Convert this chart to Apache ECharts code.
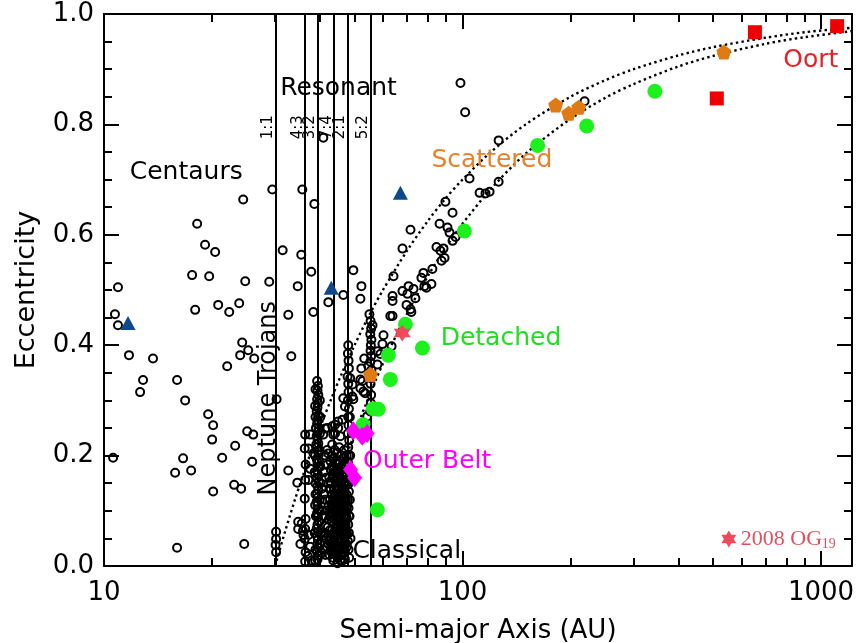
<!DOCTYPE html>
<html><head><meta charset="utf-8">
<script src="https://cdn.jsdelivr.net/npm/echarts@6/dist/echarts.min.js"></script>
<style>html,body{margin:0;padding:0;background:#fff}#c{width:858px;height:643px}</style>
</head><body><div id="c"></div>
<script>
// ---- axis ticks ----
const xMajorTicks = [10, 100, 1000];
const xMinorTicks = [20,30,40,50,60,70,80,90,200,300,400,500,600,700,800,900];
const xTickLabels = [10, 100, 1000];
const yTickLabels = [0.0, 0.2, 0.4, 0.6, 0.8, 1.0];

// ---- resonances (a in AU) ----
const resonanceNames = ['1:1', '4:3', '3:2', '7:4', '2:1', '5:2'];
const resonanceA = [30.1, 36.4, 39.4, 43.7, 47.8, 55.4];

// ---- black open circles: [a, e] ----
const centaurObjs = [
[10.94,0.505],[10.73,0.456],[10.94,0.436],[10.6,0.196],[11.74,0.382],[13.7,0.376],[12.85,0.337],[12.61,0.315],
[15.99,0.337],[16.84,0.300],[17.61,0.527],[19.65,0.525],[17.96,0.464],[20.82,0.473],[22.35,0.460],[23.83,0.476],
[24.77,0.516],[24.29,0.405],[25.25,0.391],[23.98,0.382],[26.24,0.376],[22.06,0.362],[19.52,0.275],[20.16,0.255],
[20.03,0.229],[23.22,0.218],[21.36,0.196],[16.62,0.195],[15.79,0.169],[17.5,0.173],[20.16,0.135],[23.07,0.147],
[24.13,0.14],[25.08,0.244],[26.08,0.238],[25.91,0.189],[15.99,0.033],[24.61,0.04],[24.45,0.664],[18.19,0.62],
[19.14,0.582],[20.42,0.569],[29.47,0.682],[28.9,0.515],[31.5,0.572],[32.66,0.455],[33.3,0.38],[34.7,0.507],
[32.66,0.173],[34.61,0.151]
];
const trojanObjs = [[30.2,0.062],[30.2,0.049],[30.1,0.038],[30.2,0.025],[30.3,0.302]];
const upperResonant = [
[98.7,0.875],[101.7,0.822],[40.9,0.776],[35.74,0.682],[38.61,0.656],[35.5,0.564],[37.85,0.533],[49.6,0.536],
[52.24,0.507],[38.36,0.46],[51.9,0.484],[46.51,0.491],[42.24,0.478],[54.99,0.456]
];
const res43Objs = [
[36.4,0.238],[36.3,0.213],[36.5,0.184],[36.4,0.156],[36.3,0.122],[36.5,0.085],[36.4,0.067],[36.3,0.049],
[36.5,0.025],[36.4,0.008],[34.8,0.08],[34.8,0.067],[35.6,0.077],[35.9,0.064],[36.0,0.056],[35.3,0.04],
[37.2,0.056],[37.6,0.035],[37.0,0.018],[37.9,0.01],[37.6,0.238],[37.2,0.213],[38.4,0.204],[37.6,0.176],[37.2,0.156]
];
const plutinoObjs = [
[39.3,0.335],[39.5,0.326],[39.4,0.318],[39.6,0.31],[39.3,0.302],[39.5,0.295],[39.4,0.287],[39.2,0.28],
[39.6,0.272],[39.4,0.265],[39.3,0.258],[39.7,0.25],[39.5,0.243],[39.2,0.236],[39.4,0.229],[39.6,0.222],
[39.3,0.215],[39.5,0.208],[39.7,0.201],[39.2,0.194],[39.4,0.187],[39.6,0.18],[39.3,0.173],[39.5,0.166],
[39.2,0.159],[39.7,0.152],[39.4,0.145],[39.6,0.138],[39.3,0.131],[39.5,0.124],[39.2,0.117],[39.4,0.11],
[39.6,0.103],[39.3,0.096],[39.5,0.089],[39.7,0.082],[39.4,0.075],[39.2,0.068],[39.6,0.061],[39.3,0.054],
[39.5,0.047],[39.4,0.04],[39.6,0.033],[39.3,0.026],[39.5,0.019],[39.4,0.012],
[38.9,0.27],[40.0,0.24],[38.8,0.2],[40.1,0.18],[38.9,0.15],[40.0,0.12],[39.0,0.09],[40.2,0.06],[38.9,0.03],[40.1,0.02],
[38.9,0.32],[40.0,0.3],[38.8,0.29],[40.1,0.27],[39.0,0.25],[39.9,0.21],[38.7,0.17],[40.2,0.15],[38.9,0.13],
[40.0,0.1],[38.8,0.11],[39.9,0.08],[38.7,0.06],[40.0,0.04],[38.8,0.01],[39.1,0.22],[39.8,0.19]
];
const classicalObjs = [
[42.6,0.02],[42.9,0.05],[43.2,0.08],[43.5,0.11],[43.8,0.14],[44.1,0.17],[44.4,0.03],[44.7,0.06],[45.0,0.09],
[45.3,0.12],[45.6,0.15],[45.9,0.18],[46.2,0.01],[46.5,0.04],[46.8,0.07],[47.1,0.1],[47.4,0.13],
[42.7,0.12],[43.0,0.15],[43.3,0.18],[43.6,0.01],[43.9,0.04],[44.2,0.07],[44.5,0.1],[44.8,0.13],[45.1,0.16],
[45.4,0.19],[45.7,0.02],[46.0,0.05],[46.3,0.08],[46.6,0.11],[46.9,0.14],[47.2,0.17],
[42.8,0.09],[43.1,0.025],[43.4,0.055],[43.7,0.085],[44.0,0.115],[44.3,0.145],[44.6,0.175],[44.9,0.015],
[45.2,0.045],[45.5,0.075],[45.8,0.105],[46.1,0.135],[46.4,0.165],[46.7,0.195],[47.0,0.025],[47.3,0.055],[47.6,0.085],
[43.0,0.035],[43.3,0.065],[43.6,0.095],[43.9,0.125],[44.2,0.155],[44.5,0.185],[44.8,0.005],[45.1,0.035],
[45.4,0.065],[45.7,0.095],[46.0,0.125],[46.3,0.155],[46.6,0.185],[46.9,0.045],[47.2,0.075],[47.5,0.105],
[42.5,0.16],[42.8,0.19],[43.2,0.2],[44.0,0.21],[44.7,0.205],[45.3,0.215],[46.0,0.2],[46.8,0.21],[47.5,0.2],
[43.5,0.03],[44.2,0.02],[44.9,0.045],[45.6,0.01],[46.3,0.03],[47.0,0.012],[47.6,0.035],
[43.1,0.11],[43.8,0.06],[44.4,0.09],[45.0,0.14],[45.7,0.06],[46.4,0.1],[47.1,0.15],[42.9,0.14],[43.7,0.17],
[44.6,0.12],[45.5,0.17],[46.2,0.07],[47.3,0.12],
[40.8,0.03],[41.2,0.06],[41.5,0.02],[41.8,0.1],[42.1,0.07],[41.0,0.13],[41.6,0.16],[42.2,0.04],[40.6,0.1],[41.3,0.2],
[41.4,0.249],[42.2,0.204],[42.0,0.184],[43.3,0.22],[44.1,0.256],[43.6,0.238],[45.0,0.262],[47.0,0.289],[42.8,0.153],
[43.3,0.253],[44.1,0.24],[45.6,0.235],[46.2,0.265],[45.0,0.25],[46.5,0.304],[42.0,0.25],[40.9,0.238]
];
const classicalDense = [
[40.7,0.055],[41.1,0.09],[41.4,0.12],[41.9,0.035],[42.3,0.11],[42.4,0.085],[42.6,0.14],[42.7,0.065],[43.0,0.095],[43.2,0.13],
[43.4,0.16],[43.5,0.015],[43.8,0.045],[43.9,0.1],[44.0,0.13],[44.1,0.06],[44.3,0.19],[44.4,0.115],[44.6,0.025],[44.7,0.155],
[44.9,0.085],[45.0,0.11],[45.1,0.055],[45.2,0.185],[45.3,0.03],[45.4,0.14],[45.6,0.085],[45.7,0.125],[45.8,0.045],[45.9,0.155],
[46.0,0.075],[46.1,0.02],[46.2,0.115],[46.3,0.175],[46.5,0.06],[46.6,0.14],[46.7,0.09],[46.8,0.03],[47.0,0.12],[47.1,0.065],
[47.3,0.18],[47.4,0.04],[47.5,0.15],[47.6,0.06],[47.7,0.11],[42.5,0.045],[42.9,0.175],[43.3,0.04],[43.6,0.195],[44.2,0.105],
[44.8,0.07],[45.5,0.095],[46.1,0.165],[46.9,0.105],[47.4,0.09],[42.2,0.15],[41.7,0.05],[41.0,0.17],[40.5,0.14],[41.9,0.21],
[48.6,0.2],[48.5,0.12],[48.7,0.05],[48.5,0.27],[48.6,0.34],[48.4,0.09],[48.6,0.17]
];
const twotinoObjs = [
[48.0,0.40],[47.9,0.385],[48.1,0.372],[48.2,0.358],[47.8,0.343],[48.0,0.33],[48.1,0.315],[47.9,0.3],[48.2,0.285],
[48.0,0.27],[48.1,0.255],[47.9,0.24],[48.3,0.228],[48.0,0.215],[48.2,0.2],[47.9,0.188],[48.1,0.175],[48.3,0.16],
[48.0,0.148],[48.2,0.135],[47.9,0.12],[48.1,0.105],[48.3,0.09],[48.0,0.075],[48.2,0.06],[47.9,0.045],[48.1,0.03],[48.3,0.015]
];
const res52Objs = [
[55.4,0.444],[55.6,0.43],[55.3,0.42],[55.7,0.41],[55.5,0.40],[55.4,0.39],[55.6,0.38],[55.3,0.37],[55.7,0.355],
[55.5,0.34],[55.4,0.33],[55.6,0.31],[55.5,0.295],[55.3,0.28],[56.1,0.436],
[51.9,0.338],[53.5,0.313],[51.9,0.322],[54.2,0.271],[49.3,0.329],[52.2,0.358],[53.2,0.376],[54.6,0.362],[57.9,0.365],
[52.6,0.335],[52.9,0.316],[49.3,0.307],[49.6,0.302],[60.2,0.418],[59.8,0.402],[63.4,0.398],[57.9,0.389],[59.0,0.384]
];
const scatteredObjs = [
[64.2,0.525],[70.7,0.507],[73.0,0.502],[68.0,0.498],[70.2,0.493],[73.9,0.485],[63.8,0.489],[63.8,0.48],[69.8,0.473],
[72.0,0.46],[63.8,0.453],[71.6,0.465],[62.9,0.453],
[104.6,0.702],[126.1,0.696],[111.6,0.676],[115.9,0.675],[119.0,0.678],[126.1,0.771],[89.6,0.66],[93.8,0.64],
[86.3,0.62],[90.8,0.613],[92.0,0.604],[95.6,0.596],[93.8,0.589],[71.6,0.609],[68.0,0.575],[84.6,0.578],[86.8,0.571],
[88.5,0.575],[89.1,0.558],[87.4,0.553],[82.4,0.538],[77.8,0.531],[76.8,0.522],[81.9,0.511],[78.3,0.507],[79.3,0.504],
[219,0.842]
];

// ---- coloured populations ----
const centaurTriangles = [[11.67,0.44],[43.05,0.504],[67.1,0.676]];
const scatteredPentagons = [[55.35,0.347],[181.9,0.835],[197.8,0.82],[210.9,0.831],[535.8,0.931]];
const oortSquares = [[654,0.967],[1109,0.978],[512,0.847]];
const detachedCircles = [[162,0.762],[222,0.797],[344,0.86],[101.2,0.607],[69.3,0.438],[77.3,0.395],[62.1,0.382],
  [62.9,0.338],[56.4,0.285],[58.2,0.284],[52.8,0.256],[57.9,0.102]];
const outerBeltDiamonds = [[49.6,0.245],[52.5,0.235],[54.2,0.24],[48.7,0.175],[50.0,0.16]];
const og19 = [[67.9,0.422]];

// ---- constant-perihelion curves (q = 30 AU and q = 38 AU) ----
const curveQ30 = [[30,0],[32,0.0625],[34,0.118],[36,0.167],[38,0.211],[40,0.25],[43,0.302],[46,0.348],[50,0.4],
  [55,0.455],[60,0.5],[70,0.571],[80,0.625],[90,0.667],[100,0.7],[120,0.75],[150,0.8],[200,0.85],[250,0.88],
  [300,0.9],[400,0.925],[500,0.94],[700,0.957],[900,0.967],[1220,0.975]];
const curveQ38 = [[38,0],[40,0.05],[43,0.116],[46,0.174],[50,0.24],[55,0.309],[60,0.367],[70,0.457],[80,0.525],
  [90,0.578],[100,0.62],[120,0.683],[150,0.747],[200,0.81],[250,0.848],[300,0.873],[400,0.905],[500,0.924],
  [700,0.946],[900,0.958],[1220,0.969]];

const kboAll = [].concat(centaurObjs, trojanObjs, upperResonant, res43Objs, plutinoObjs, classicalObjs,
  classicalDense, twotinoObjs, res52Objs, scatteredObjs);

const FONT = 'DejaVu Sans';
const chart = echarts.init(document.getElementById('c'), null, {renderer: 'canvas'});

function xAx(pos, ticks, len, labels, main) {
  return {
    type: 'log', logBase: 10, min: 10, max: 1220, position: pos,
    axisLine: {show: !!main, onZero: false, lineStyle: {color: '#000', width: 2}},
    axisTick: {show: true, inside: true, length: len, customValues: ticks, lineStyle: {color: '#000', width: 2}},
    axisLabel: labels ? {show: true, customValues: xTickLabels, formatter: v => String(Math.round(v)),
      fontSize: 26, color: '#000', fontFamily: FONT, margin: 14} : {show: false},
    splitLine: {show: false}, minorTick: {show: false},
    name: labels ? 'Semi-major Axis (AU)' : '', nameLocation: 'middle', nameGap: 52,
    nameTextStyle: {fontSize: 26, color: '#000', fontFamily: FONT}
  };
}
function yAx(pos, labels) {
  return {
    type: 'value', min: 0, max: 1, interval: 0.2, position: pos,
    axisLine: {show: true, onZero: false, lineStyle: {color: '#000', width: 2}},
    axisTick: {show: true, inside: true, length: 15, lineStyle: {color: '#000', width: 2}},
    minorTick: {show: true, splitNumber: 4, length: 8, lineStyle: {color: '#000', width: 2}},
    axisLabel: labels ? {show: true, formatter: v => v.toFixed(1), fontSize: 26, color: '#000', fontFamily: FONT, margin: 10} : {show: false},
    splitLine: {show: false},
    name: labels ? 'Eccentricity' : '', nameLocation: 'middle', nameGap: 64,
    nameTextStyle: {fontSize: 27, color: '#000', fontFamily: FONT}
  };
}

const pentagon = 'path://M0,-10L9.51,-3.09L5.88,8.09L-5.88,8.09L-9.51,-3.09Z';
const hexagram = 'path://M0,-10L2.887,-5L8.66,-5L5.774,0L8.66,5L2.887,5L0,10L-2.887,5L-8.66,5L-5.774,0L-8.66,-5L-2.887,-5Z';

chart.setOption({
  animation: false,
  backgroundColor: '#fff',
  grid: {left: 104, top: 14, width: 748, height: 552, containLabel: false, outerBoundsMode: 'none'},
  xAxis: [xAx('bottom', xMajorTicks, 15, true, true), xAx('bottom', xMinorTicks, 8, false, false),
          xAx('top', xMajorTicks, 15, false, true), xAx('top', xMinorTicks, 8, false, false)],
  yAxis: [yAx('left', true), yAx('right', false)],
  series: [
    {type: 'line', data: curveQ30, smooth: 0.3, symbol: 'none', silent: true,
     lineStyle: {color: '#000', width: 2.4, type: [2.4, 3.2]}, z: 1},
    {type: 'line', data: curveQ38, smooth: 0.3, symbol: 'none', silent: true,
     lineStyle: {color: '#000', width: 2.4, type: [2.4, 3.2]}, z: 1},
    {type: 'scatter', data: kboAll, symbol: 'circle', symbolSize: 8, silent: true, z: 3,
     itemStyle: {color: 'rgba(0,0,0,0)', borderColor: '#000', borderWidth: 2, opacity: 1},
     markLine: {silent: true, symbol: 'none', label: {show: false},
       lineStyle: {color: '#000', width: 2, type: 'solid'},
       data: resonanceA.map(a => ({xAxis: a}))}},
    {type: 'scatter', data: centaurTriangles, symbol: 'triangle', symbolSize: [15, 14], z: 5, silent: true,
     itemStyle: {color: '#0d4a8c', opacity: 1}},
    {type: 'scatter', data: detachedCircles, symbol: 'circle', symbolSize: 15, z: 5, silent: true,
     itemStyle: {color: '#1ef01e', opacity: 1}},
    {type: 'scatter', data: scatteredPentagons, symbol: pentagon, symbolSize: 15, z: 6, silent: true,
     itemStyle: {color: '#e07a14', opacity: 1}},
    {type: 'scatter', data: oortSquares, symbol: 'rect', symbolSize: 14, z: 6, silent: true,
     itemStyle: {color: '#ee0000', opacity: 1}},
    {type: 'scatter', data: outerBeltDiamonds, symbol: 'diamond', symbolSize: [15, 19], z: 6, silent: true,
     itemStyle: {color: '#ff00ff', opacity: 1}},
    {type: 'scatter', data: og19, symbol: hexagram, symbolSize: 17, z: 7, silent: true,
     itemStyle: {color: '#ee4a5a', opacity: 1}}
  ]
});

// ---- text annotations, anchored in data coordinates ----
const annotations = [
  {text: 'Resonant', at: [31.0, 0.865], color: '#000'},
  {text: 'Centaurs', at: [11.8, 0.713], color: '#000'},
  {text: 'Scattered', at: [81.9, 0.735], color: '#e8822a'},
  {text: 'Detached', at: [86.9, 0.413], color: '#1ee01e'},
  {text: 'Outer Belt', at: [52.8, 0.189], color: '#ff00ff'},
  {text: 'Classical', at: [49.3, 0.027], color: '#000'},
  {text: 'Oort', at: [785, 0.915], color: '#e8202a'}
];
const px = v => chart.convertToPixel({xAxisIndex: 0, yAxisIndex: 0}, v);
const graphics = [];
annotations.forEach(an => {
  const p = px(an.at);
  graphics.push({type: 'text', x: p[0], y: p[1], silent: true, z: 20,
    style: {text: an.text, fill: an.color, font: '25px "' + FONT + '"', textAlign: 'left', textVerticalAlign: 'middle'}});
});
// Neptune Trojans (rotated)
(function () {
  const p = px([28.8, 0.304]);
  graphics.push({type: 'text', x: p[0], y: p[1], rotation: Math.PI / 2, silent: true, z: 20,
    style: {text: 'Neptune Trojans', fill: '#000', font: '24px "' + FONT + '"', textAlign: 'center', textVerticalAlign: 'middle'}});
})();
// resonance labels
resonanceNames.forEach((nm, i) => {
  const p = px([resonanceA[i], 0.795]);
  graphics.push({type: 'text', x: p[0] - 7, y: p[1], rotation: Math.PI / 2, silent: true, z: 20,
    style: {text: nm, fill: '#000', font: '15px "' + FONT + '"', textAlign: 'center', textVerticalAlign: 'middle'}});
});
// 2008 OG19 key
(function () {
  const p = px([553, 0.049]);
  const r = 0.85;
  graphics.push({type: 'polygon', shape: {points: [[0,-10],[2.887,-5],[8.66,-5],[5.774,0],[8.66,5],[2.887,5],[0,10],
      [-2.887,5],[-8.66,5],[-5.774,0],[-8.66,-5],[-2.887,-5]].map(q => [q[0]*r, q[1]*r])}, x: p[0], y: p[1],
    style: {fill: '#ee4a5a'}, silent: true, z: 20});
  graphics.push({type: 'text', x: p[0] + 12, y: p[1], silent: true, z: 20,
    style: {text: '2008 OG', fill: '#e0505e', font: '22px "Liberation Serif"', textAlign: 'left', textVerticalAlign: 'middle'}});
  graphics.push({type: 'text', x: p[0] + 93, y: p[1] + 5, silent: true, z: 20,
    style: {text: '19', fill: '#e0505e', font: '14px "Liberation Serif"', textAlign: 'left', textVerticalAlign: 'middle'}});
})();
chart.setOption({graphic: graphics});
</script></body></html>
